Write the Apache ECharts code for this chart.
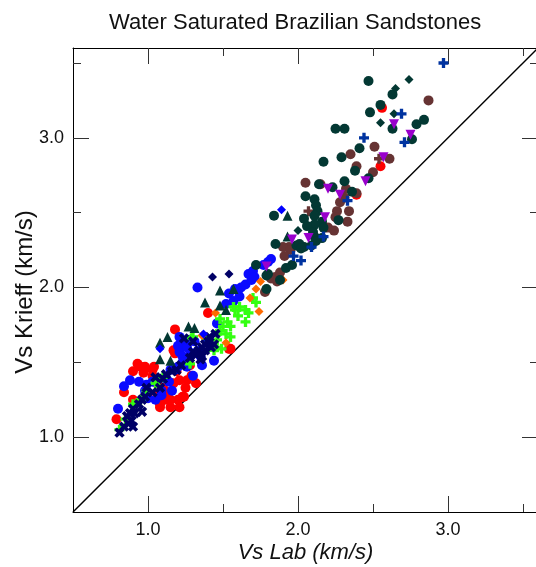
<!DOCTYPE html>
<html>
<head>
<meta charset="utf-8">
<script src="https://cdn.jsdelivr.net/npm/echarts@6/dist/echarts.min.js"></script>
<style>html,body{margin:0;padding:0;background:#fff}#c{width:536px;height:567px}</style>
</head>
<body>
<div id="c"></div>
<script>
const titleText = 'Water Saturated Brazilian Sandstones';
const xName = 'Vs Lab (km/s)';
const yName = 'Vs Krieff (km/s)';
const majorTicks = [1, 2, 3];
const minorTicks = [1.5, 2.5, 3.5];
const oneToOne = [[0.5, 0.5], [3.6, 3.6]];

const redCircles = [[0.79,1.12],[0.84,1.30],[0.90,1.25],[0.93,1.49],[0.90,1.44],[0.97,1.43],[1.03,1.45],[1.03,1.41],[1.06,1.36],[1.06,1.29],[1.08,1.20],[1.08,1.22],[1.10,1.29],[1.10,1.33],[1.12,1.25],[1.15,1.25],[1.15,1.20],[1.17,1.36],[1.20,1.25],[1.21,1.38],[1.21,1.20],[1.23,1.27],[1.24,1.27],[1.26,1.38],[1.28,1.48],[1.29,1.41],[1.18,1.56],[1.17,1.58],[1.18,1.72],[1.04,1.47],[0.98,1.47],[0.95,1.47],[1.40,1.83],[1.54,1.59],[1.55,1.59],[1.13,1.30],[1.19,1.44],[1.25,1.33],[1.32,1.36],[2.56,3.20],[2.55,2.81],[2.39,2.62]];
const blueCircles = [[0.80,1.19],[0.84,1.34],[0.88,1.38],[0.94,1.37],[0.98,1.31],[0.99,1.35],[1.03,1.37],[1.05,1.25],[1.00,1.26],[1.09,1.28],[1.09,1.31],[1.12,1.39],[1.14,1.37],[1.15,1.45],[1.16,1.31],[1.18,1.45],[1.20,1.47],[1.21,1.57],[1.21,1.67],[1.23,1.54],[1.23,1.50],[1.25,1.62],[1.26,1.60],[1.26,1.47],[1.28,1.65],[1.28,1.55],[1.30,1.56],[1.30,1.41],[1.31,1.64],[1.35,1.54],[1.35,1.58],[1.36,1.48],[1.39,1.65],[1.44,1.51],[1.46,1.76],[1.20,1.61],[1.33,2.00],[1.52,1.89],[1.54,1.96],[1.57,1.91],[1.58,1.99],[1.60,1.98],[1.61,1.94],[1.62,2.00],[1.65,2.02],[1.67,2.09],[1.69,2.05],[1.70,2.11],[1.71,2.07],[1.77,2.15],[1.80,2.17],[1.82,2.19]];
const limePlus = [[0.81,1.05],[0.85,1.12],[0.90,1.22],[0.95,1.25],[0.99,1.31],[1.05,1.36],[1.10,1.40],[1.28,1.49],[1.30,1.67],[1.29,1.66],[1.39,1.66],[1.44,1.58],[1.46,1.65],[1.48,1.71],[1.48,1.79],[1.49,1.59],[1.50,1.74],[1.53,1.77],[1.55,1.67],[1.55,1.74],[1.58,1.85],[1.60,1.81],[1.61,1.87],[1.65,1.85],[1.65,1.77],[1.67,1.83],[1.70,1.93],[1.72,1.90],[1.57,1.87],[1.52,1.69],[1.46,1.60]];
const navyX = [[0.81,1.03],[0.84,1.07],[0.87,1.09],[0.89,1.11],[0.86,1.14],[0.88,1.16],[0.90,1.19],[0.91,1.16],[0.94,1.22],[0.96,1.25],[0.96,1.17],[0.98,1.27],[0.99,1.33],[1.03,1.30],[1.05,1.40],[1.08,1.33],[1.10,1.39],[1.16,1.44],[1.19,1.45],[1.22,1.48],[1.24,1.66],[1.30,1.57],[1.30,1.64],[1.32,1.55],[1.34,1.58],[1.36,1.60],[1.36,1.54],[1.38,1.58],[1.38,1.62],[1.40,1.64],[1.41,1.67],[1.44,1.62],[1.45,1.69],[1.35,1.52],[1.28,1.53],[1.12,1.42],[0.90,1.07],[1.42,1.60]];
const orangeDiamonds = [[1.36,1.68],[1.45,1.83],[1.52,1.63],[1.68,1.93],[1.72,1.99],[1.74,1.84],[1.75,2.04],[1.90,2.05]];
const brownCircles = [[2.87,3.25],[2.51,2.94],[2.35,2.89],[2.61,2.86],[2.39,2.81],[2.50,2.77],[2.32,2.66],[2.39,2.63],[2.15,2.69],[2.05,2.70],[2.28,2.57],[2.26,2.51],[2.34,2.51],[2.25,2.47],[2.33,2.44],[2.20,2.40],[2.18,2.40],[2.24,2.38],[1.94,2.27],[1.90,2.27],[1.95,2.25],[1.91,2.21],[1.85,2.07],[1.86,2.04],[1.88,2.10],[1.82,2.06],[1.78,1.97],[2.31,2.60]];
const brownPlus = [[2.07,2.51],[2.54,2.86]];
const tealCircles = [[2.47,3.38],[2.63,3.29],[2.55,3.22],[2.48,3.17],[2.79,3.09],[2.84,3.12],[2.63,3.06],[2.76,2.99],[2.25,3.06],[2.31,3.06],[2.41,2.93],[2.29,2.87],[2.17,2.84],[2.38,2.78],[2.47,2.73],[2.31,2.71],[2.23,2.67],[2.36,2.64],[2.14,2.69],[2.05,2.61],[2.11,2.59],[2.12,2.55],[2.13,2.51],[2.11,2.48],[1.84,2.48],[2.04,2.46],[2.27,2.45],[2.16,2.44],[2.11,2.42],[2.06,2.41],[2.17,2.40],[2.10,2.37],[2.11,2.34],[2.16,2.33],[1.85,2.29],[1.99,2.28],[2.04,2.27],[2.01,2.29],[2.02,2.26],[2.09,2.28],[2.12,2.31],[1.96,2.15],[1.92,2.13],[1.88,2.05],[1.72,2.15],[1.80,2.09],[1.79,1.99],[1.79,2.08]];
const tealTriangles = [[1.08,1.52],[1.15,1.51],[1.08,1.63],[1.13,1.67],[1.27,1.74],[1.31,1.73],[1.38,1.90],[1.48,1.88],[1.48,1.98],[1.52,1.85],[1.57,1.99],[1.93,2.48],[1.93,2.34]];
const tealDiamonds = [[2.74,3.39],[2.65,3.33],[2.64,3.16],[2.55,3.10],[2.00,2.38]];
const navyDiamonds = [[1.43,2.07],[1.54,2.09]];
const blueDiamonds = [[1.89,2.52],[1.08,1.59],[1.37,1.69]];
const purpleTriangles = [[2.64,3.09],[2.75,3.02],[2.57,2.87],[2.45,2.71],[2.20,2.66],[2.28,2.62],[2.18,2.47],[1.96,2.32],[2.07,2.33],[1.79,2.14]];
const bluePlus = [[2.97,3.50],[2.69,3.16],[2.71,2.97],[2.44,3.00],[2.33,2.58],[2.17,2.34],[2.09,2.27],[1.97,2.21],[2.02,2.18]];

const PLUS = 'path://M3,0H6V3H9V6H6V9H3V6H0V3H3Z';
const FONT = 'Liberation Sans, Arial, sans-serif';

function mkAxis(pos, ticks, len, showLine, labels, extra) {
  return Object.assign({
    type: 'value', gridIndex: 0, position: pos, min: 0.5, max: 3.6,
    axisLine: { show: showLine, onZero: false, lineStyle: { color: '#000', width: 1 } },
    axisTick: { show: true, inside: true, length: len, customValues: ticks, lineStyle: { color: '#333', width: 1 } },
    axisLabel: labels ? { show: true, customValues: ticks, formatter: v => v.toFixed(1), fontSize: 18, color: '#111', fontFamily: FONT, margin: 9 } : { show: false },
    splitLine: { show: false }, minorTick: { show: false }
  }, extra || {});
}

function sc(name, data, symbol, size, color, extra) {
  return Object.assign({ type: 'scatter', name, data, symbol, symbolSize: size, itemStyle: { color, opacity: 1 }, silent: true, xAxisIndex: 0, yAxisIndex: 0 }, extra || {});
}

const chart = echarts.init(document.getElementById('c'), null, { renderer: 'canvas' });
chart.setOption({
  animation: false,
  backgroundColor: '#fff',
  title: { text: titleText, left: 104, top: 7, textStyle: { fontSize: 22, fontWeight: 'normal', color: '#111', fontFamily: FONT } },
  grid: { left: 73, top: 48, width: 465, bottom: 55, containLabel: false, outerBoundsMode: 'none' },
  xAxis: [
    mkAxis('bottom', majorTicks, 16, true, true, { name: xName, nameLocation: 'middle', nameGap: 30, nameMoveOverlap: false, nameTextStyle: { fontSize: 22, fontStyle: 'italic', color: '#111', fontFamily: FONT } }),
    mkAxis('bottom', minorTicks, 8, false, false),
    mkAxis('top', majorTicks, 16, true, false),
    mkAxis('top', minorTicks, 8, false, false)
  ],
  yAxis: [
    mkAxis('left', majorTicks, 16, true, true, { name: yName, nameLocation: 'middle', nameGap: 36, nameMoveOverlap: false, nameRotate: 90, nameTextStyle: { fontSize: 24, color: '#111', fontFamily: FONT, padding: [0, 24, 0, 0] } }),
    mkAxis('left', minorTicks, 8, false, false),
    mkAxis('right', majorTicks, 16, true, false),
    mkAxis('right', minorTicks, 8, false, false)
  ],
  series: [
    { type: 'line', data: oneToOne, symbol: 'none', silent: true, lineStyle: { color: '#000', width: 1.5 }, z: 1 },
    sc('red', redCircles, 'circle', 10, '#ff0000'),
    sc('blue', blueCircles, 'circle', 10, '#0a0aff'),
    sc('lime', limePlus, PLUS, 10, '#33ff11'),
    sc('navyX', navyX, PLUS, 11, '#000066', { symbolRotate: 45 }),
    sc('orange', orangeDiamonds, 'diamond', 9, '#ff6a00'),
    sc('brown', brownCircles, 'circle', 10, '#663333'),
    sc('brownPlus', brownPlus, PLUS, 10, '#663333'),
    sc('teal', tealCircles, 'circle', 10, '#033833'),
    sc('tealTri', tealTriangles, 'triangle', 10, '#033833'),
    sc('tealDia', tealDiamonds, 'diamond', 9, '#033833'),
    sc('navyDia', navyDiamonds, 'diamond', 9, '#000066'),
    sc('blueDia', blueDiamonds, 'diamond', 9, '#0000ff'),
    sc('purple', purpleTriangles, 'triangle', 10, '#9900cc', { symbolRotate: 180 }),
    sc('bluePlus', bluePlus, PLUS, 10, '#0033a0')
  ]
});
</script>
</body>
</html>
